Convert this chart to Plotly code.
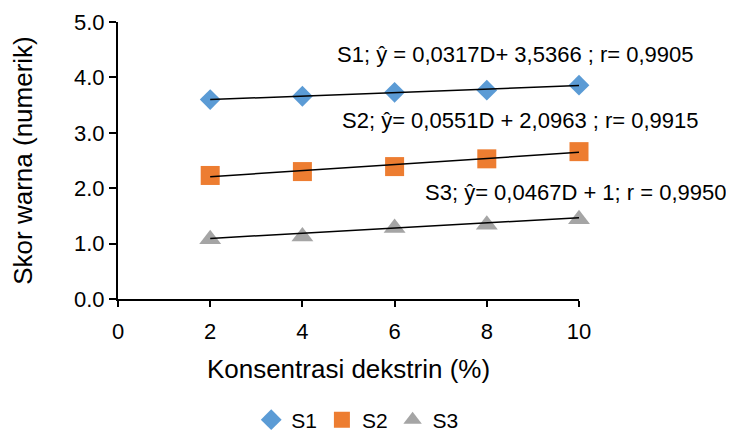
import plotly.graph_objects as go

konsentrasi = [2, 4, 6, 8, 10]
s1 = [3.60, 3.66, 3.73, 3.77, 3.86]
s2 = [2.23, 2.30, 2.39, 2.53, 2.66]
s3 = [1.08, 1.13, 1.28, 1.34, 1.44]

slopes = [0.0317, 0.0551, 0.0467]
intercepts = [3.5366, 2.0963, 1.0]
labels = [
    "S1; ŷ = 0,0317D+ 3,5366 ; r= 0,9905",
    "S2; ŷ= 0,0551D + 2,0963 ; r= 0,9915",
    "S3; ŷ= 0,0467D + 1; r = 0,9950",
]
names = ["S1", "S2", "S3"]
y_ticks = [0, 1, 2, 3, 4, 5]
y_ticktext = ["0.0", "1.0", "2.0", "3.0", "4.0", "5.0"]
x_ticks = [0, 2, 4, 6, 8, 10]

FONT = "Liberation Sans Narrow, Arial Narrow, Liberation Sans, Arial, sans-serif"
colors = ["#5B9BD5", "#ED7D31", "#A5A5A5"]
symbols = ["diamond", "square", "triangle-up"]
sizes = [16, 19, 19]

fig = go.Figure()
series = [s1, s2, s3]
for i in range(3):
    fig.add_trace(go.Scatter(
        x=konsentrasi, y=series[i], mode="markers", name=names[i],
        marker=dict(symbol=symbols[i], color=colors[i], size=sizes[i]),
        cliponaxis=False,
    ))
for i in range(3):
    xs = [konsentrasi[0], konsentrasi[-1]]
    ys = [slopes[i] * x + intercepts[i] for x in xs]
    fig.add_trace(go.Scatter(
        x=xs, y=ys, mode="lines", showlegend=False,
        line=dict(color="black", width=1.5), cliponaxis=False,
    ))

ann_pos = [(0.471, 0.935, "left"), (0.482, 0.646, "left"), (1.325, 0.386, "right")]
for i in range(3):
    fig.add_annotation(x=ann_pos[i][0], y=ann_pos[i][1], xref="paper", yref="paper",
                       xanchor=ann_pos[i][2], text=labels[i], showarrow=False,
                       font=dict(family=FONT, size=22, color="black"))

fig.update_layout(
    width=726, height=428,
    margin=dict(l=110, r=155, t=14, b=137, autoexpand=False),
    paper_bgcolor="white", plot_bgcolor="white",
    font=dict(family=FONT, size=22, color="black"),
    showlegend=True,
    legend=dict(orientation="h", x=0.52, y=-0.437, xanchor="center", yanchor="middle",
                font=dict(family=FONT, size=21), itemwidth=30,
                traceorder="normal", tracegroupgap=0),
    xaxis=dict(range=[0, 10], tickvals=x_ticks, showline=True, linecolor="black",
               linewidth=2, ticks="outside", ticklen=6, tickcolor="black",
               tickwidth=1.5, showgrid=False, zeroline=False, automargin=False,
               ticklabelstandoff=6,
               title=dict(text="Konsentrasi dekstrin (%)", standoff=16)),
    yaxis=dict(range=[0, 5], tickvals=y_ticks, ticktext=y_ticktext, showline=True,
               linecolor="black", linewidth=2, ticks="outside", ticklen=7,
               tickcolor="black", tickwidth=1.5, showgrid=False, zeroline=False,
               automargin=False,
               title=dict(text="Skor warna (numerik)", standoff=34)),
)

fig.write_html("out.html")
